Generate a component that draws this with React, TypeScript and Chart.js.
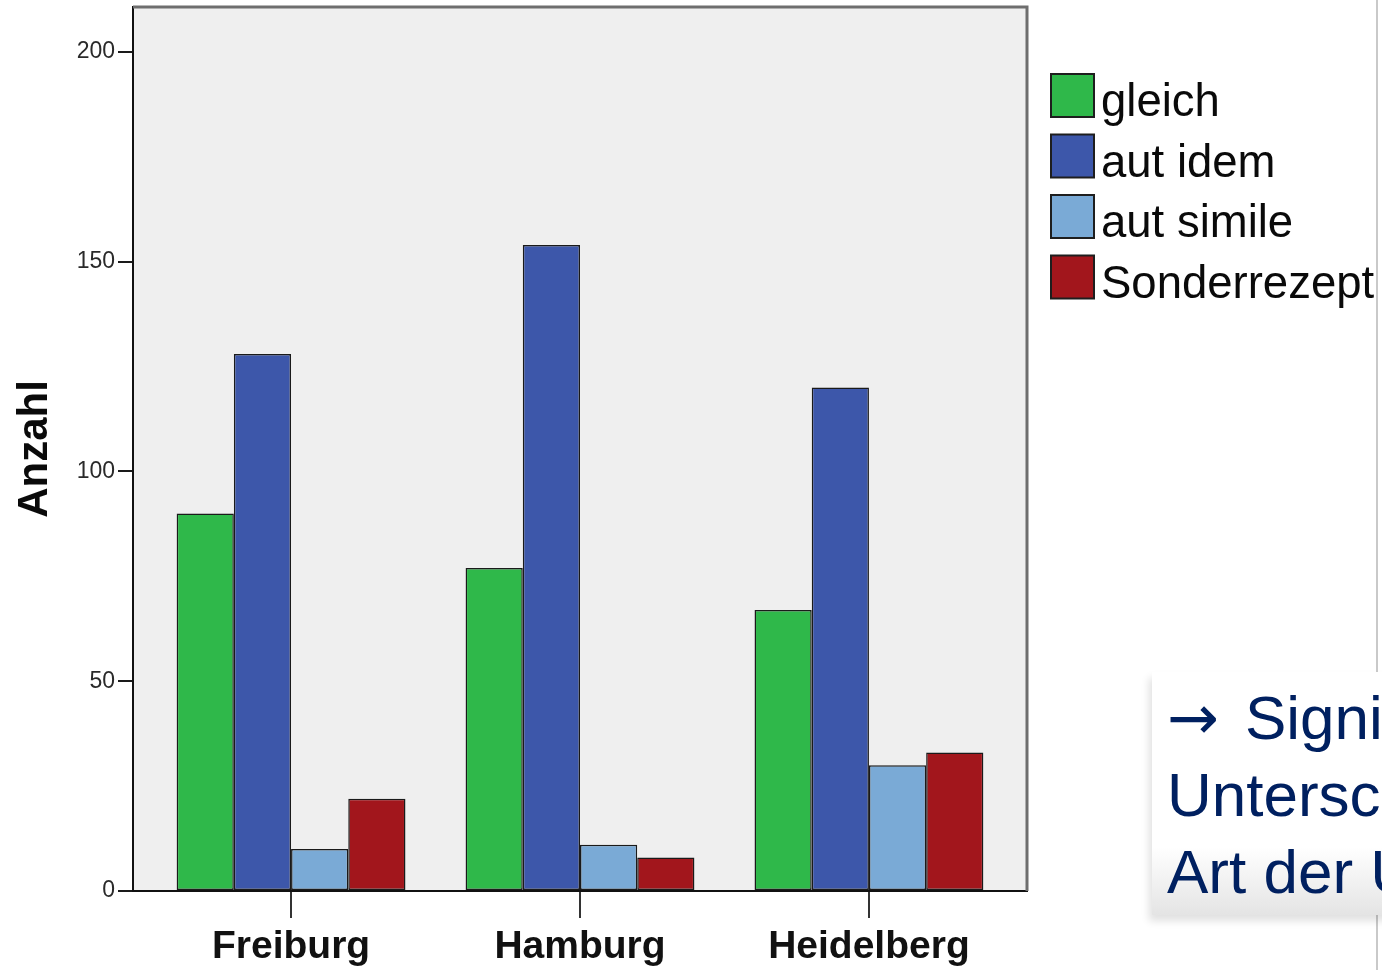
import React, { useEffect, useRef } from "react";
import { Chart, registerables } from "chart.js";

Chart.register(...registerables);

// Categories (cities) and counts per prescription type
const cities = ["Freiburg", "Hamburg", "Heidelberg"];
const seriesNames = ["gleich", "aut idem", "aut simile", "Sonderrezept"];
const gleich = [90, 77, 67];
const autIdem = [128, 154, 120];
const autSimile = [10, 11, 30];
const sonderrezept = [22, 8, 33];
const yTicks = [0, 50, 100, 150, 200];

const seriesColors = ["#2fb84a", "#3d57aa", "#7aaad6", "#a2161c"];
const FONT = "'Liberation Sans', Arial, Helvetica, sans-serif";

// Plot background plus the grey frame on top/right of the plot area
const framePlugin = {
  id: "frame",
  beforeDraw(chart: any) {
    const { ctx, chartArea: a } = chart;
    ctx.save();
    ctx.fillStyle = "#efefef";
    ctx.fillRect(a.left, a.top, a.right - a.left, a.bottom - a.top);
    ctx.restore();
  },
  afterDraw(chart: any) {
    const { ctx, chartArea: a } = chart;
    ctx.save();
    ctx.strokeStyle = "#6e6e6e";
    ctx.lineWidth = 3;
    ctx.beginPath();
    ctx.moveTo(a.left, a.top);
    ctx.lineTo(a.right, a.top);
    ctx.lineTo(a.right, a.bottom);
    ctx.stroke();
    ctx.restore();
  },
};

// Legend block on the right: colour squares with labels
const sideLegendPlugin = {
  id: "sideLegend",
  afterDraw(chart: any) {
    const { ctx } = chart;
    const x0 = 1051;
    const y0 = 74;
    const box = 43;
    const step = 60.5;
    ctx.save();
    ctx.font = `45.5px ${FONT}`;
    ctx.textBaseline = "alphabetic";
    ctx.textAlign = "left";
    chart.data.datasets.forEach((ds: any, i: number) => {
      const y = y0 + i * step;
      ctx.fillStyle = ds.backgroundColor;
      ctx.fillRect(x0, y, box, box);
      ctx.strokeStyle = "#1e1e1e";
      ctx.lineWidth = 2;
      ctx.strokeRect(x0, y, box, box);
      ctx.fillStyle = "#0a0a0a";
      ctx.fillText(ds.label, x0 + 50, y + box - 1);
    });
    ctx.restore();
  },
};

export default function App() {
  const canvasRef = useRef<HTMLCanvasElement | null>(null);

  useEffect(() => {
    const canvas = canvasRef.current;
    if (!canvas) return;
    const values = [gleich, autIdem, autSimile, sonderrezept];
    const chart = new Chart(canvas, {
      type: "bar",
      data: {
        datasets: seriesNames.map((name, s) => ({
          label: name,
          data: values[s].map((v, i) => ({ x: i, y: v })),
          backgroundColor: seriesColors[s],
          borderColor: "#1a1a1a",
          borderWidth: 1.5,
          borderSkipped: false,
          barPercentage: 1,
          categoryPercentage: 0.792,
        })),
      },
      options: {
        responsive: false,
        animation: false,
        devicePixelRatio: 1,
        layout: { autoPadding: false, padding: { top: 7, right: 355, left: 0, bottom: 0 } },
        plugins: {
          legend: { display: false },
          tooltip: { enabled: false },
        },
        scales: {
          x: {
            type: "linear",
            offset: false,
            min: -0.547,
            max: 2.547,
            afterFit: (scale: any) => {
              scale.height = 79;
              scale.paddingLeft = 0;
              scale.paddingRight = 0;
            },
            afterBuildTicks: (scale: any) => {
              scale.ticks = cities.map((_, i) => ({ value: i }));
            },
            ticks: {
              callback: (v: any) => cities[v] ?? "",
              font: { family: FONT, size: 39, weight: "bold" },
              color: "#111",
              padding: 6,
              maxRotation: 0,
              autoSkip: false,
            },
            grid: {
              offset: false,
              drawOnChartArea: false,
              drawTicks: true,
              tickLength: 27,
              color: "#333",
              lineWidth: 2,
            },
            border: { display: true, color: "#111", width: 2 },
          },
          y: {
            type: "linear",
            min: 0,
            max: 210.7,
            afterFit: (scale: any) => {
              scale.width = 133;
              scale.paddingTop = 0;
              scale.paddingBottom = 0;
            },
            afterBuildTicks: (scale: any) => {
              scale.ticks = yTicks.map((v) => ({ value: v }));
            },
            ticks: {
              font: { family: FONT, size: 23 },
              color: "#2a2a2a",
              padding: 3,
            },
            grid: {
              drawOnChartArea: false,
              drawTicks: true,
              tickLength: 15,
              color: "#1a1a1a",
              lineWidth: 2,
            },
            border: { display: true, color: "#111", width: 2 },
            title: {
              display: true,
              text: "Anzahl",
              font: { family: FONT, size: 42, weight: "bold" },
              color: "#0a0a0a",
              padding: { top: 10, bottom: 0 },
            },
          },
        },
      },
      plugins: [framePlugin, sideLegendPlugin],
    } as any);
    return () => chart.destroy();
  }, []);

  return (
    <div
      style={{
        position: "absolute",
        left: 0,
        top: 0,
        width: 1382,
        height: 970,
        overflow: "hidden",
        background: "#fff",
      }}
    >
      <canvas ref={canvasRef} width={1382} height={970} style={{ display: "block" }} />
      <div
        style={{
          position: "absolute",
          left: 1376,
          top: 0,
          width: 2,
          height: 970,
          background: "#c9c9c9",
        }}
      />
      <div
        style={{
          position: "absolute",
          left: 1152,
          top: 672,
          width: 260,
          height: 243,
          background: "linear-gradient(to bottom, #ffffff 0%, #ffffff 72%, #e4e4e4 100%)",
          boxShadow: "-3px 6px 8px rgba(0,0,0,0.12)",
          boxSizing: "border-box",
          paddingTop: 7,
          paddingLeft: 15,
          fontFamily: FONT,
          fontSize: 62,
          lineHeight: "77px",
          color: "#002060",
          whiteSpace: "nowrap",
        }}
      >
        <div>
          <span style={{ fontFamily: "'DejaVu Sans', sans-serif" }}>→</span>
          <span style={{ marginLeft: 26 }}>Signifikanter</span>
        </div>
        <div>Unterschied</div>
        <div>Art der Umsetzung</div>
      </div>
    </div>
  );
}
